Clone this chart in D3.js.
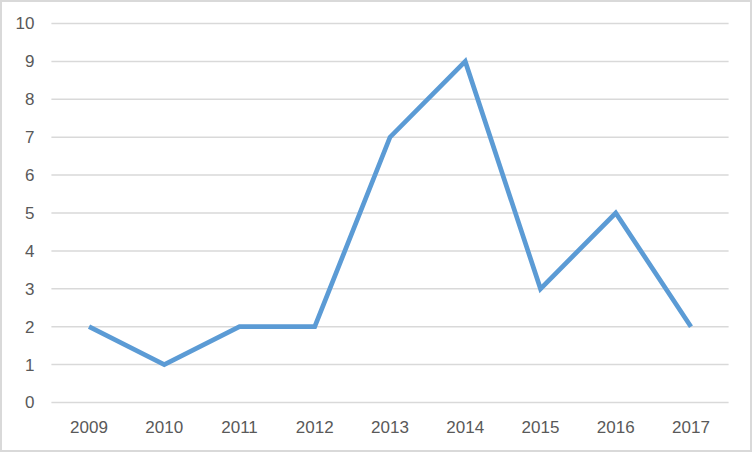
<!DOCTYPE html>
<html><head><meta charset="utf-8">
<script src="https://cdn.jsdelivr.net/npm/d3@7"></script>
<style>html,body{margin:0;padding:0;background:#fff;}svg{display:block;}</style>
</head><body>
<script>
const years = ["2009","2010","2011","2012","2013","2014","2015","2016","2017"];
const values = [2,1,2,2,7,9,3,5,2];
const yTicks = [0,1,2,3,4,5,6,7,8,9,10];

(function(){
const W = 752, H = 452;
const svg = d3.select("body").append("svg").attr("width", W).attr("height", H);
svg.append("rect").attr("x",1).attr("y",1).attr("width",W-2).attr("height",H-2)
  .attr("fill","#fff").attr("stroke","#d9d9d9").attr("stroke-width",2);

const pLeft = 51.4, pRight = 728.6, pTop = 23.5, pBottom = 402.5;
const x = d3.scaleBand().domain(years).range([pLeft, pRight]);
const y = d3.scaleLinear().domain([0,10]).range([pBottom, pTop]);

const font = "'Liberation Sans', Arial, sans-serif";

svg.append("g").selectAll("line").data(yTicks).join("line")
  .attr("x1", pLeft).attr("x2", pRight)
  .attr("y1", d => y(d)).attr("y2", d => y(d))
  .attr("stroke", "#d9d9d9").attr("stroke-width", 1.5);

const yAxis = svg.append("g").attr("transform", `translate(${pLeft},0)`)
  .call(d3.axisLeft(y).tickValues(yTicks).tickSize(0).tickPadding(17));
yAxis.select(".domain").remove();
yAxis.selectAll("text").attr("fill","#595959").style("font-family", font).style("font-size","17px");

const xAxis = svg.append("g").attr("transform", `translate(0,${pBottom})`)
  .call(d3.axisBottom(x).tickSize(0).tickPadding(18));
xAxis.select(".domain").remove();
xAxis.selectAll("text").attr("fill","#595959").style("font-family", font).style("font-size","17px");

const line = d3.line().x((d,i) => x(years[i]) + x.bandwidth()/2).y(d => y(d));
svg.append("path").datum(values).attr("d", line)
  .attr("fill","none").attr("stroke","#5b9bd5").attr("stroke-width",4.7)
  .attr("stroke-linejoin","miter").attr("stroke-linecap","butt");
})();
</script>
</body></html>
